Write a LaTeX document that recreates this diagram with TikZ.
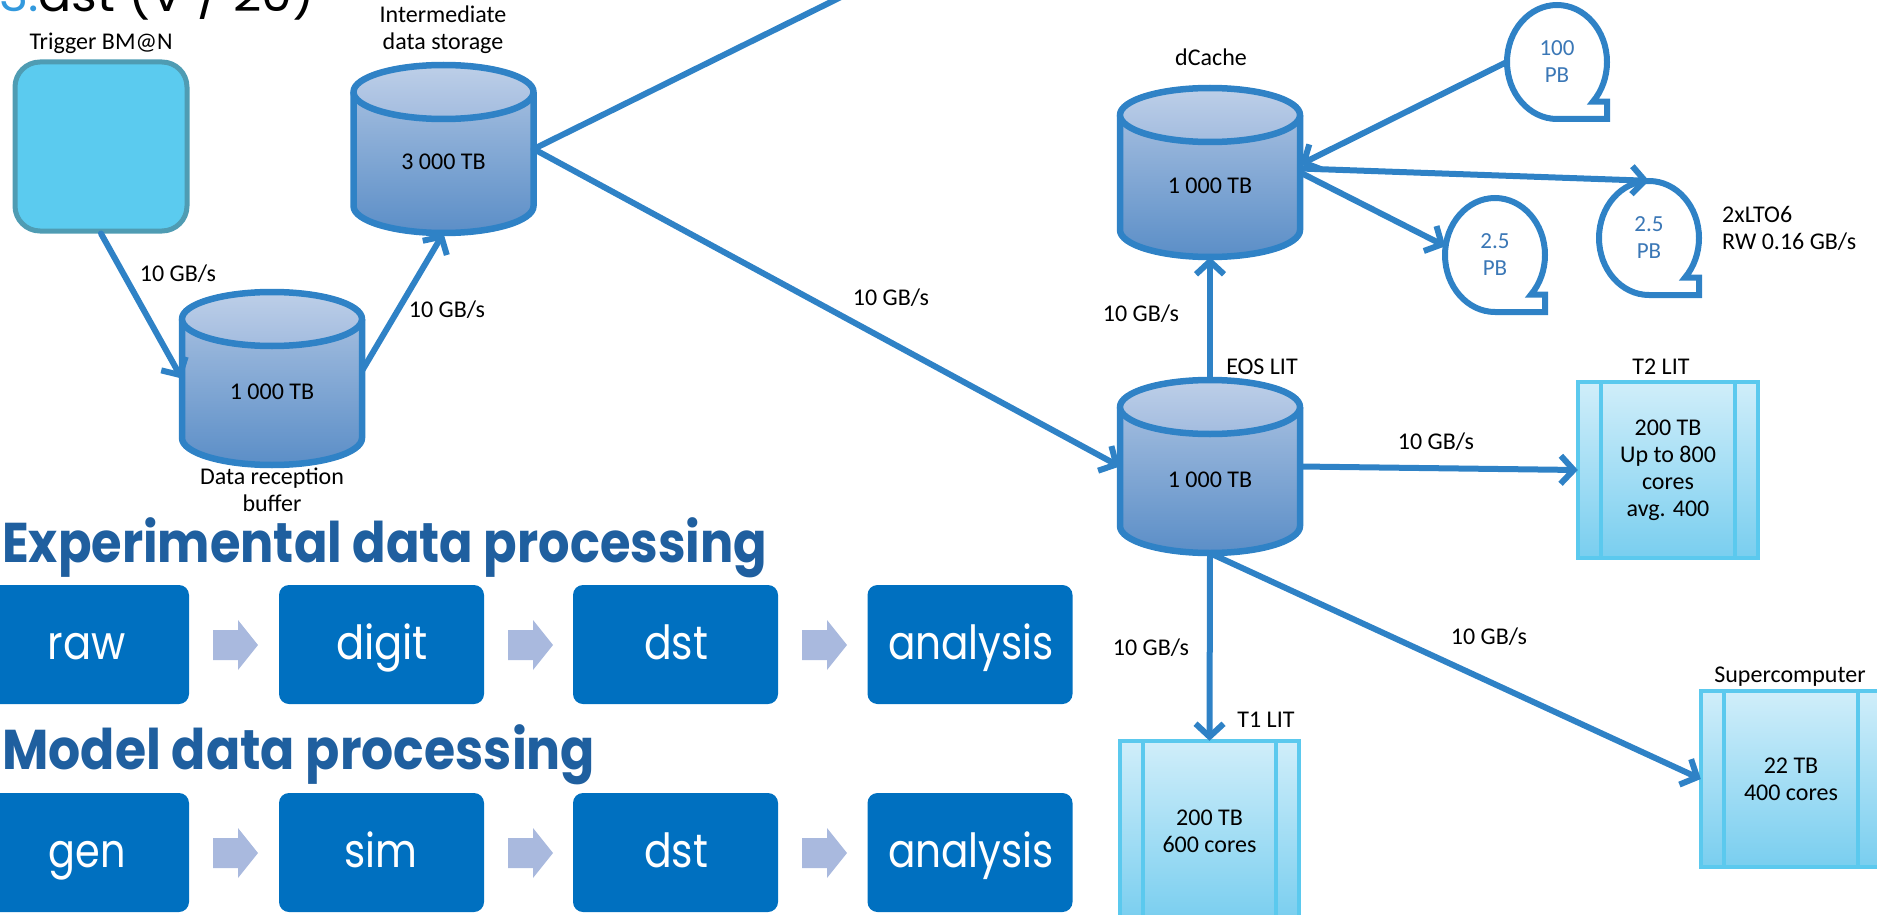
\documentclass[tikz,border=0pt]{standalone}
\usepackage{fontspec}
\setmainfont{Carlito}
\newfontfamily\pop{Poppins}
\usetikzlibrary{arrows.meta,shapes.geometric,fit}
\definecolor{lnblue}{HTML}{2F82C6}
\definecolor{cylA}{HTML}{AFC5E3}
\definecolor{cylB}{HTML}{5B8EC7}
\definecolor{ellA}{HTML}{BDCFE8}
\definecolor{ellB}{HTML}{A3BCDF}
\definecolor{trigfill}{HTML}{5BCBEF}
\definecolor{trigline}{HTML}{4F9CB3}
\definecolor{pbA}{HTML}{D0EEFA}
\definecolor{pbB}{HTML}{79CEEF}
\definecolor{pbline}{HTML}{5BC9EE}
\definecolor{procblue}{HTML}{0070C0}
\definecolor{chevcol}{HTML}{A9B9DE}
\definecolor{headblue}{HTML}{1F5F9F}
\definecolor{tapetxt}{HTML}{3A77B6}
\definecolor{topblue}{HTML}{3399DD}
\newcommand\fitw[2]{\resizebox{#1pt}{\height}{#2}}
\newcommand\mycyl[5]{%
  \pgfmathsetmacro\cyA{#3+27}%
  \pgfmathsetmacro\cyB{#4-27}%
  \shade[top color=cylA,bottom color=cylB] (#2-90,\cyA) -- (#2-90,\cyB)
    arc[start angle=180,end angle=0,x radius=90,y radius=27] -- (#2+90,\cyA)
    arc[start angle=0,end angle=-180,x radius=90,y radius=27] -- cycle;
  \draw[cylline] (#2-90,\cyA) -- (#2-90,\cyB)
    arc[start angle=180,end angle=0,x radius=90,y radius=27] -- (#2+90,\cyA);
  \shade[top color=ellA,bottom color=ellB] (#2,\cyA) ellipse[x radius=90,y radius=27];
  \draw[cylline] (#2,\cyA) ellipse[x radius=90,y radius=27];
  \node[fit={(#2-90,#3) (#2+90,#4)},inner sep=0] (#1) {};
  \node[lbl] (#1t) at ([yshift=-13pt]#1.center) {#5};
}
\newcommand\pbox[6]{%
  \shade[top color=pbA,bottom color=pbB] (#2,#3) rectangle (#4,#5);
  \draw[pbline] (#2,#3) rectangle (#4,#5) (#2+23,#3) -- (#2+23,#5) (#4-23,#3) -- (#4-23,#5);
  \node[fit={(#2,#3) (#4,#5)},inner sep=0] (#1) {};
  \node[lbl] (#1t) at (#1.center) {#6};
}
\newcommand\tape[4]{%
  \draw[tapeline] (#2,#3+57) arc[start angle=90,end angle=404,x radius=50,y radius=57]
    -- ({#2+50},{#3+57*sin(44)}) -- (#2+50,#3+57) -- cycle;
  \node[ellipse,inner sep=0,minimum width=100pt,minimum height=114pt] (#1) at (#2,#3) {};
  \node[lbl,text=tapetxt,font=\fontsize{23}{27}\selectfont] (#1t) at (#1.center) {#4};
}
\newcommand\chev[2]{%
  \fill[chevcol] (#1,#2+10) -- (#1+25,#2+10) -- (#1+25,#2) -- (#1+45,#2+25)
    -- (#1+25,#2+50) -- (#1+25,#2+40) -- (#1,#2+40) -- cycle;
}
\begin{document}
\begin{tikzpicture}[x=1pt,y=-1pt,
  lbl/.style={font=\fontsize{24}{27}\selectfont,inner sep=0,align=center},
  conn/.style={draw=lnblue,line width=6pt,line cap=round,-{Straight Barb[length=13pt,width=28pt]}},
  link/.style={draw=lnblue,line width=6pt,line cap=round},
  cylline/.style={draw=lnblue,line width=6.5pt,line join=round},
  pbline/.style={draw=pbline,line width=4.5pt},
  tapeline/.style={draw=lnblue,line width=6pt,fill=white,line join=miter},
  proc/.style={fill=procblue,rounded corners=10pt,inner sep=0,minimum width=205pt,minimum height=119pt},
  proctxt/.style={text=white,font=\pop\fontsize{47}{50}\selectfont,inner sep=0,anchor=base},
  head/.style={text=headblue,font=\pop\bfseries\fontsize{56}{60}\selectfont,inner sep=0,anchor=base west}]
\useasboundingbox (0,0) rectangle (1877,915);
\clip (0,0) rectangle (1877,915);

% top cut text
\node[inner sep=0,anchor=base west,font=\pop\fontsize{47}{50}\selectfont] (toptxt) at (-1,12)
  {\fitw{316}{\textcolor{topblue}{3.}dst (V / 20)}};

% trigger
\node[draw=trigline,fill=trigfill,line width=5pt,rounded corners=25pt,
  minimum width=172pt,minimum height=169pt,inner sep=0] (trig) at (101,146.5) {};
\node[lbl] (trigl) at (101,43) {Trigger BM@N};

% cylinders
\mycyl{inter}{443.5}{65}{233}{3 000 TB}
\node[lbl] (interl) at (443,30) {Intermediate\\data storage};
\mycyl{buf}{272}{292}{465}{1 000 TB}
\node[lbl] (bufl) at (272,490) {Data reception\\buffer};
\mycyl{dcache}{1210}{88}{257}{1 000 TB}
\node[lbl] (dcachel) at (1211,57) {dCache};
\mycyl{eos}{1210}{380}{553}{1 000 TB}
\node[lbl] (eosl) at (1262,367) {EOS LIT};

% compute boxes
\pbox{t2}{1578}{382}{1758}{558}{200 TB\\Up to 800\\cores\\avg. 400}
\node[lbl] (t2l) at (1661,367) {T2 LIT};
\pbox{t1}{1120}{741}{1299}{921}{200 TB\\600 cores}
\node[lbl] (t1l) at (1266,720) {T1 LIT};
\pbox{sc}{1701}{691}{1881}{867}{22 TB\\400 cores}
\node[lbl] (scl) at (1790,677) {Supercomputer};

% tapes
\tape{tapeA}{1557}{62}{100\\PB}
\tape{tapeL}{1495}{255}{2.5\\PB}
\tape{tapeR}{1649}{238}{2.5\\PB}
\node[lbl,align=left,anchor=west] (lto) at (1722,228) {2xLTO6\\RW 0.16 GB/s};

% connectors
\coordinate (topend) at (841,-3);
\draw[conn] (trig.south) -- (buf.west);
\draw[conn] ([yshift=8pt]buf.east) -- (inter.south);
\draw[link] (inter.east) -- (topend);
\draw[conn] (inter.east) -- (eos.west);
\draw[conn] (eos.north) -- (dcache.south);
\draw[conn] (tapeA.west) -- ([yshift=8pt]dcache.east);
\draw[conn] ([yshift=4pt]dcache.east) -- (tapeR.north);
\draw[conn] (dcache.east) -- (tapeL.170);
\draw[conn] (eos.east) -- (t2.west);
\draw[conn] (eos.south) -- (t1.north);
\draw[conn] (eos.south) -- (sc.west);

% rate labels
\node[lbl] (r1) at (178,274) {10 GB/s};
\node[lbl] (r2) at (447,310) {10 GB/s};
\node[lbl] (r3) at (891,298) {10 GB/s};
\node[lbl] (r4) at (1141,314) {10 GB/s};
\node[lbl] (r5) at (1436,442) {10 GB/s};
\node[lbl] (r6) at (1151,648) {10 GB/s};
\node[lbl] (r7) at (1489,637) {10 GB/s};

% processing chains
\node[head] (h1) at (2,562) {\fitw{765}{Experimental data processing}};
\node[head] (h2) at (2,769) {\fitw{593}{Model data processing}};

\node[proc] (raw) at (86.5,644.5) {};
\node[proc] (digit) at (381.5,644.5) {};
\node[proc] (dst1) at (675.5,644.5) {};
\node[proc] (ana1) at (970,644.5) {};
\node[proctxt] (rawt) at (87,659) {\fitw{78}{raw}};
\node[proctxt] (digitt) at (382,659) {\fitw{92}{digit}};
\node[proctxt] (dst1t) at (676,659) {\fitw{64}{dst}};
\node[proctxt] (ana1t) at (971,659) {\fitw{166}{analysis}};
\chev{213}{620}
\chev{508}{620}
\chev{802}{620}

\node[proc] (gen) at (86.5,852.5) {};
\node[proc] (sim) at (381.5,852.5) {};
\node[proc] (dst2) at (675.5,852.5) {};
\node[proc] (ana2) at (970,852.5) {};
\node[proctxt] (gent) at (87,867) {\fitw{77}{gen}};
\node[proctxt] (simt) at (381,867) {\fitw{73}{sim}};
\node[proctxt] (dst2t) at (676,867) {\fitw{64}{dst}};
\node[proctxt] (ana2t) at (971,867) {\fitw{166}{analysis}};
\chev{213}{828}
\chev{508}{828}
\chev{802}{828}
\end{tikzpicture}
\end{document}
